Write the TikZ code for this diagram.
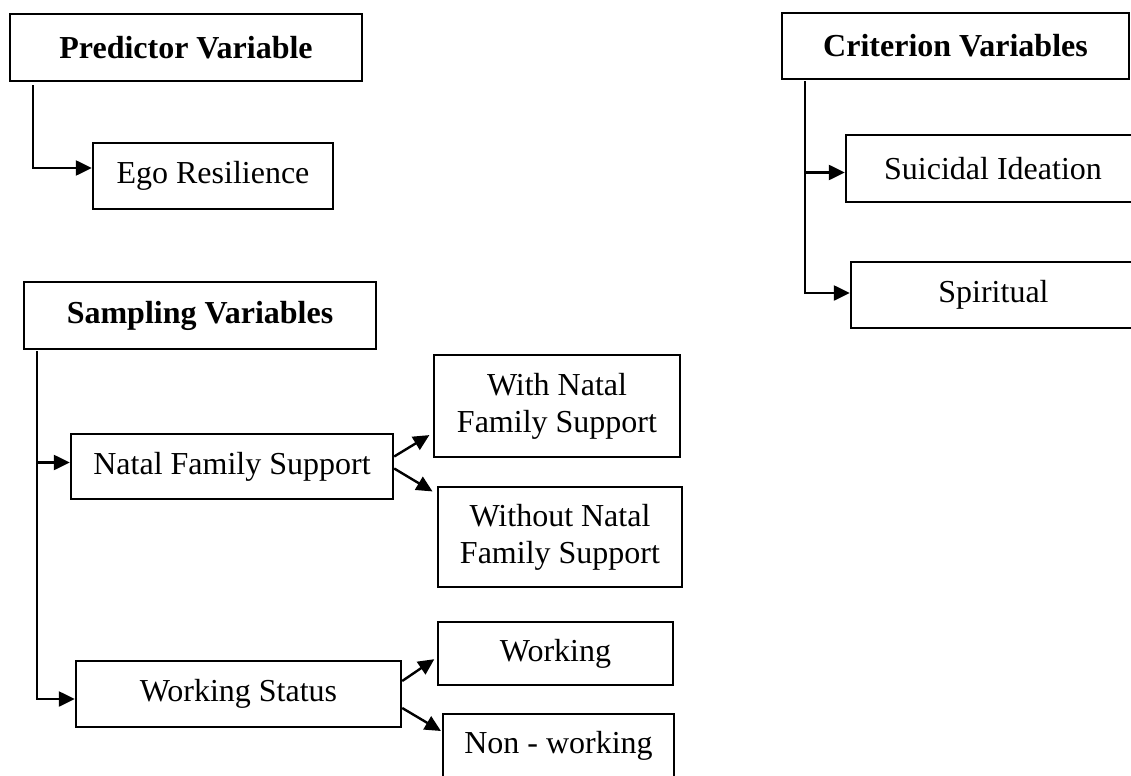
\documentclass[tikz,border=0pt]{standalone}
\usepackage{fontspec}
\setmainfont{Liberation Serif}
\usetikzlibrary{arrows.meta}

\begin{document}
\begin{tikzpicture}[x=0.5pt, y=-0.5pt, line width=1.2pt,
  box/.style={draw, rectangle, inner sep=0pt, align=center, font=\fontsize{16}{18.5}\selectfont},
  arr/.style={-{Triangle[length=8pt, width=7.5pt]}}]
  \useasboundingbox (0,0) rectangle (1131,776);
  \clip (0,0) rectangle (1131,776);
  % headings
  \node[box, minimum width=176pt, minimum height=33.5pt, font=\fontsize{16}{18.5}\selectfont\bfseries] (pred) at (186,47.5) {Predictor Variable};
  \node[box, minimum width=176pt, minimum height=33.5pt, font=\fontsize{16}{18.5}\selectfont\bfseries] (samp) at (200,315.5) {Sampling Variables};
  \node[box, minimum width=173.5pt, minimum height=33pt, font=\fontsize{16}{18.5}\selectfont\bfseries] (crit) at (955.5,46) {Criterion Variables};
  % variables
  \node[box, minimum width=120pt, minimum height=33pt] (ego) at (213,176) {Ego Resilience};
  \node[box, minimum width=147pt, minimum height=33.5pt] (suic) at (993,168.5) {Suicidal Ideation};
  \node[box, minimum width=142.5pt, minimum height=33pt] (spir) at (993.5,295) {Spiritual};
  \node[box, minimum width=161pt, minimum height=32.5pt] (natal) at (232,466.5) {Natal Family Support};
  \node[box, minimum width=162.5pt, minimum height=33pt] (ws) at (238.5,694) {Working Status};
  \node[box, minimum width=123pt, minimum height=51pt] (withn) at (557,406) {With Natal\\Family Support};
  \node[box, minimum width=122pt, minimum height=50pt] (withoutn) at (560,537) {Without Natal\\Family Support};
  \node[box, minimum width=117.5pt, minimum height=31.5pt] (wk) at (555.5,653.5) {Working};
  \node[box, minimum width=115.5pt, minimum height=31.5pt] (nonwk) at (558.5,745.5) {Non - working};
  % connectors
  \draw[arr] ([xshift=12pt, yshift=-1.5pt]pred.south west) |- ([yshift=4pt]ego.west);
  \draw[arr] ([xshift=12pt, yshift=-0.5pt]crit.south west) |- ([yshift=-2pt]suic.west);
  \draw[arr] ([xshift=12pt, yshift=-0.5pt]crit.south west) |- ([yshift=1pt]spir.west);
  \draw[arr] ([xshift=7pt, yshift=-0.5pt]samp.south west) |- ([yshift=2pt]natal.west);
  \draw[arr] ([xshift=7pt, yshift=-0.5pt]samp.south west) |- ([yshift=-2.5pt]ws.west);
  \draw[arr, shorten >=2pt] ([yshift=5pt]natal.east) -- ([yshift=-13.5pt]withn.west);
  \draw[arr, shorten >=2.5pt] ([yshift=-1pt]natal.east) -- ([yshift=21.5pt]withoutn.west);
  \draw[arr, shorten >=1.5pt] ([yshift=6.5pt]ws.east) -- ([yshift=-2pt]wk.west);
  \draw[arr, shorten >=0.5pt] ([yshift=-7pt]ws.east) -- ([yshift=7pt]nonwk.west);
\end{tikzpicture}
\end{document}
